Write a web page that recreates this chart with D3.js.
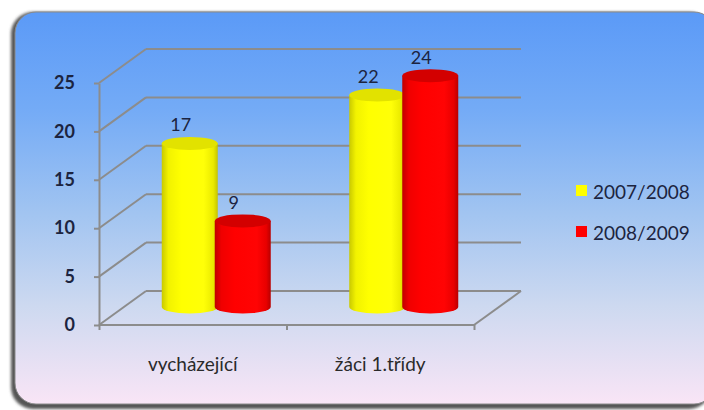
<!DOCTYPE html>
<html>
<head>
<meta charset="utf-8">
<script src="https://cdn.jsdelivr.net/npm/d3@7"></script>
<style>
  body { margin: 0; background: #fff; }
  svg { display: block; }
  text { font-family: Lato, "Open Sans", sans-serif; }
</style>
</head>
<body>
<svg width="704" height="410"></svg>
<script>
// data
const categories = ["vycházející", "žáci 1.třídy"];
const seriesNames = ["2007/2008", "2008/2009"];
const values2007 = [17, 22];
const values2008 = [9, 24];
const yTicks = [0, 5, 10, 15, 20, 25];
const seriesColors = ["#ffff00", "#ff0000"];

const svg = d3.select("svg");
const defs = svg.append("defs");

// background gradient of the rounded panel
const bg = defs.append("linearGradient").attr("id", "bg")
    .attr("x1", 0).attr("y1", 0).attr("x2", 0).attr("y2", 1);
[[0, "#5b9af7"], [0.25, "#74abf6"], [0.5, "#9fc3f1"], [0.75, "#cdd9f0"], [1, "#f9e5f6"]]
    .forEach(s => bg.append("stop").attr("offset", s[0]).attr("stop-color", s[1]));

const blur = defs.append("filter").attr("id", "blur")
    .attr("x", -0.05).attr("y", -0.05).attr("width", 1.1).attr("height", 1.1);
blur.append("feGaussianBlur").attr("stdDeviation", 1.5);

// cylinder body gradients
const makeGrad = (id, stops) => {
    const g = defs.append("linearGradient").attr("id", id)
        .attr("x1", 0).attr("y1", 0).attr("x2", 1).attr("y2", 0);
    stops.forEach(s => g.append("stop").attr("offset", s[0]).attr("stop-color", s[1]));
};
makeGrad("body0", [[0, "#c9c900"], [0.12, "#f2f200"], [0.35, "#ffff00"], [0.75, "#ffff08"], [0.92, "#eaea00"], [1, "#c4c400"]]);
makeGrad("body1", [[0, "#c00000"], [0.12, "#f00000"], [0.35, "#ff0000"], [0.75, "#ff0404"], [0.92, "#e80000"], [1, "#b80000"]]);
const topColors = ["#e2e200", "#d30000"];

// panel with shadow
svg.append("rect")
    .attr("x", 11).attr("y", 12).attr("width", 700).attr("height", 397)
    .attr("rx", 22).attr("fill", "#555").attr("filter", "url(#blur)");
svg.append("rect")
    .attr("x", 15).attr("y", 12).attr("width", 700).attr("height", 392)
    .attr("rx", 21).attr("fill", "url(#bg)")
    .attr("stroke", "#8a8a8a").attr("stroke-width", 1);

// 3d frame
const x0 = 99, x1 = 474;
const depth = {dx: 47, dy: -34};
const y = d3.scaleLinear().domain([0, 25]).range([325, 83]);
const xBand = d3.scaleBand().domain(categories).range([x0, x1]);
const xEdge = d3.scaleLinear().domain([0, categories.length]).range([x0, x1]);

const grid = svg.append("g").attr("stroke", "#8c8c8c").attr("stroke-width", 2).attr("fill", "none");
yTicks.forEach(t => {
    grid.append("line")
        .attr("x1", x0 + depth.dx).attr("x2", x1 + depth.dx)
        .attr("y1", y(t) + depth.dy).attr("y2", y(t) + depth.dy);
    grid.append("line")
        .attr("x1", x0).attr("y1", y(t))
        .attr("x2", x0 + depth.dx).attr("y2", y(t) + depth.dy);
});
// floor
grid.append("line").attr("x1", x0).attr("x2", x1).attr("y1", y(0)).attr("y2", y(0));
grid.append("line").attr("x1", x1).attr("y1", y(0))
    .attr("x2", x1 + depth.dx).attr("y2", y(0) + depth.dy);

// y axis
const yAxis = svg.append("g").attr("transform", `translate(${x0},0)`)
    .call(d3.axisLeft(y).tickValues(yTicks).tickSize(5).tickSizeOuter(0).tickPadding(19));
yAxis.select(".domain").attr("stroke", "#8c8c8c").attr("stroke-width", 2);
yAxis.selectAll(".tick line").attr("stroke", "#8c8c8c").attr("stroke-width", 2);
yAxis.selectAll(".tick text")
    .attr("font-family", "Lato, sans-serif").attr("font-size", 18)
    .attr("font-weight", 700).attr("fill", "#1c2440");

// x axis: ticks on category edges, labels in the middle
const xAxis = svg.append("g").attr("transform", `translate(0,${y(0)})`)
    .call(d3.axisBottom(xEdge).tickValues(d3.range(categories.length + 1))
        .tickSize(5).tickSizeOuter(0).tickFormat(""));
xAxis.select(".domain").remove();
xAxis.selectAll(".tick line").attr("stroke", "#8c8c8c").attr("stroke-width", 2);

svg.append("g").selectAll("text").data(categories).join("text")
    .attr("x", d => xBand(d) + xBand.bandwidth() / 2)
    .attr("y", 363)
    .attr("text-anchor", "middle").attr("dominant-baseline", "central")
    .attr("font-size", 19).attr("fill", "#2a2a2a")
    .text(d => d);

// cylinders, placed at mid depth
const mid = {dx: depth.dx / 2, dy: depth.dy / 2};
const barW = 56, barStep = 53, ry = 6.5;
const bars = [];
categories.forEach((c, ci) => {
    [values2007, values2008].forEach((vals, si) => {
        const cx = xBand(c) + xBand.bandwidth() / 2 + (si - 0.5) * barStep + mid.dx;
        bars.push({cx, si, v: vals[ci], yTop: y(vals[ci]) + mid.dy, yBase: y(0) + mid.dy - 1});
    });
});

const cyl = svg.append("g").selectAll("g").data(bars).join("g");
const rx = barW / 2;
cyl.append("path")
    .attr("d", d => `M${d.cx - rx},${d.yTop} L${d.cx - rx},${d.yBase}
        A${rx},${ry} 0 0 0 ${d.cx + rx},${d.yBase} L${d.cx + rx},${d.yTop} Z`)
    .attr("fill", d => `url(#body${d.si})`);
cyl.append("ellipse")
    .attr("cx", d => d.cx).attr("cy", d => d.yTop)
    .attr("rx", rx).attr("ry", ry)
    .attr("fill", d => topColors[d.si]);

// value labels
svg.append("g").selectAll("text").data(bars).join("text")
    .attr("x", d => d.cx - 9)
    .attr("y", d => d.yTop - 19)
    .attr("text-anchor", "middle").attr("dominant-baseline", "central")
    .attr("font-size", 18).attr("fill", "#1c2440")
    .text(d => d.v);

// legend
const legend = svg.append("g").selectAll("g").data(seriesNames).join("g")
    .attr("transform", (d, i) => `translate(576,${185 + i * 41})`);
legend.append("rect").attr("width", 11).attr("height", 11)
    .attr("fill", (d, i) => seriesColors[i]);
legend.append("text")
    .attr("x", 17).attr("y", 6)
    .attr("dominant-baseline", "central")
    .attr("font-size", 19).attr("fill", "#1c2440")
    .text(d => d);
</script>
</body>
</html>
